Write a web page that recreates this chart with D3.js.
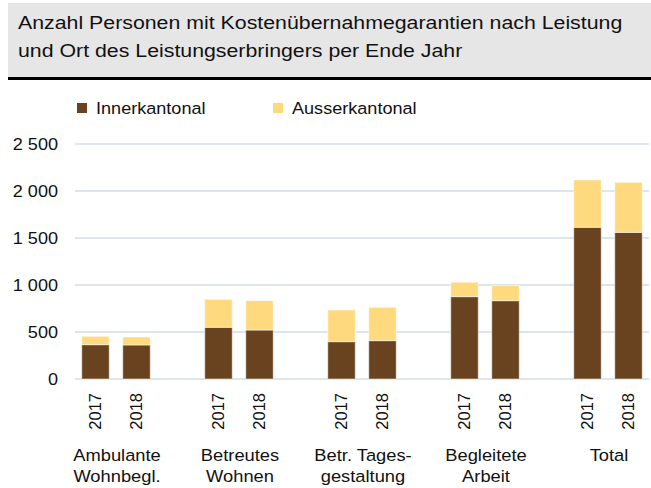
<!DOCTYPE html>
<html>
<head>
<meta charset="utf-8">
<script src="https://cdn.jsdelivr.net/npm/d3@7"></script>
<style>
  body { margin: 0; background: #fff; }
  text { font-family: "Liberation Sans", Arial, sans-serif; fill: #111; }
</style>
</head>
<body>
<div id="chart"></div>
<script>
/***** Data *****/
var groups = ["Ambulante\nWohnbegl.", "Betreutes\nWohnen", "Betr. Tages-\ngestaltung", "Begleitete\nArbeit", "Total"];
var years = ["2017", "2018"];
var innerkantonal = [[365, 362], [550, 521], [397, 408], [876, 833], [1614, 1560]];
var ausserkantonal = [[89, 85], [298, 312], [337, 355], [153, 160], [503, 532]];
var seriesNames = ["Innerkantonal", "Ausserkantonal"];
var seriesColors = ["#69431f", "#ffd97e"];
var yTicks = [0, 500, 1000, 1500, 2000, 2500];

var width = 651, height = 488;
var margin = {left: 75, right: 2, top: 144, bottom: 109};
var stretch = 1.11;   // horizontal text in the original is a little wider than Arial

var svg = d3.select("#chart").append("svg")
    .attr("width", width)
    .attr("height", height);

// place horizontal text at (x, y), widened around its anchor
function placeText(sel, fx, fy, sx) {
    sel.attr("transform", function(d, i) {
        return "translate(" + fx(d, i) + "," + fy(d, i) + ") scale(" + sx + ",1)";
    });
}

/***** Header *****/
svg.append("rect")
    .attr("x", 8).attr("y", 3)
    .attr("width", width - 8).attr("height", 75)
    .attr("fill", "#e6e6e6");
svg.append("rect")
    .attr("x", 8).attr("y", 77)
    .attr("width", width - 8).attr("height", 3)
    .attr("fill", "#000");

var titleLines = ["Anzahl Personen mit Kostenübernahmegarantien nach Leistung",
                  "und Ort des Leistungserbringers per Ende Jahr"];
svg.append("g").selectAll("text")
    .data(titleLines)
    .enter().append("text")
    .style("font-size", "18.7px")
    .text(function(d) { return d; })
    .call(placeText, function() { return 18; }, function(d, i) { return 29 + i * 28.3; }, 1.14);

/***** Scales *****/
// one slot per bar, with an empty slot between groups
var slots = [];
groups.forEach(function(g, i) {
    years.forEach(function(yr) { slots.push(i + "|" + yr); });
    if (i < groups.length - 1) slots.push("gap" + i);
});

var x = d3.scaleBand()
    .domain(slots)
    .range([margin.left, width - margin.right])
    .paddingInner(0.33)
    .paddingOuter(0.165);

var y = d3.scaleLinear()
    .domain([0, 2500])
    .range([height - margin.bottom, margin.top]);

/***** Grid + y labels *****/
svg.append("g").selectAll("line")
    .data(yTicks)
    .enter().append("line")
    .attr("x1", margin.left)
    .attr("x2", width - margin.right)
    .attr("y1", function(d) { return y(d); })
    .attr("y2", function(d) { return y(d); })
    .attr("stroke", "#d2dfe5")
    .attr("stroke-width", 1.5);

var fmt = function(d) { return d3.format(",")(d).replace(",", " "); };

svg.append("g").selectAll("text")
    .data(yTicks)
    .enter().append("text")
    .attr("dy", "0.35em")
    .attr("text-anchor", "end")
    .style("font-size", "16.3px")
    .text(fmt)
    .call(placeText, function() { return 58; }, function(d) { return y(d); }, stretch);

/***** Bars *****/
var bars = [];
groups.forEach(function(g, i) {
    years.forEach(function(yr, j) {
        bars.push({key: i + "|" + yr, year: yr, inner: innerkantonal[i][j], ausser: ausserkantonal[i][j]});
    });
});

var barG = svg.append("g");
barG.selectAll("rect.inner")
    .data(bars)
    .enter().append("rect")
    .attr("class", "inner")
    .attr("x", function(d) { return x(d.key); })
    .attr("width", x.bandwidth())
    .attr("y", function(d) { return y(d.inner); })
    .attr("height", function(d) { return y(0) - y(d.inner); })
    .attr("fill", seriesColors[0])
    .attr("stroke", "rgba(255,255,255,0.5)")
    .attr("stroke-width", 1);

barG.selectAll("rect.ausser")
    .data(bars)
    .enter().append("rect")
    .attr("class", "ausser")
    .attr("x", function(d) { return x(d.key); })
    .attr("width", x.bandwidth())
    .attr("y", function(d) { return y(d.inner + d.ausser); })
    .attr("height", function(d) { return y(d.inner) - y(d.inner + d.ausser); })
    .attr("fill", seriesColors[1])
    .attr("stroke", "rgba(255,255,255,0.5)")
    .attr("stroke-width", 1);

/***** X labels *****/
svg.append("g").selectAll("text")
    .data(bars)
    .enter().append("text")
    .attr("transform", function(d) {
        return "translate(" + (x(d.key) + x.bandwidth() / 2) + ",393) rotate(-90)";
    })
    .attr("dy", "0.35em")
    .attr("text-anchor", "end")
    .style("font-size", "16.5px")
    .text(function(d) { return d.year; });

var groupLabels = svg.append("g").selectAll("text")
    .data(groups)
    .enter().append("text")
    .attr("text-anchor", "middle")
    .style("font-size", "16.5px")
    .call(placeText, function(d, i) {
        return (x(i + "|2017") + x(i + "|2018") + x.bandwidth()) / 2 + 1;
    }, function() { return 461; }, stretch);

groupLabels.each(function(d) {
    var t = d3.select(this);
    d.split("\n").forEach(function(l, k) {
        t.append("tspan").attr("x", 0).attr("y", k * 20.7).text(l);
    });
});

/***** Legend *****/
var legendX = [77, 273];
var legend = svg.append("g").selectAll("g")
    .data(seriesNames)
    .enter().append("g")
    .attr("transform", function(d, i) { return "translate(" + legendX[i] + ",103)"; });

legend.append("rect")
    .attr("width", 10).attr("height", 10)
    .attr("fill", function(d, i) { return seriesColors[i]; });

legend.append("text")
    .attr("dy", "0.35em")
    .style("font-size", "16.3px")
    .text(function(d) { return d; })
    .call(placeText, function() { return 19; }, function() { return 5.5; }, stretch);
</script>
</body>
</html>
